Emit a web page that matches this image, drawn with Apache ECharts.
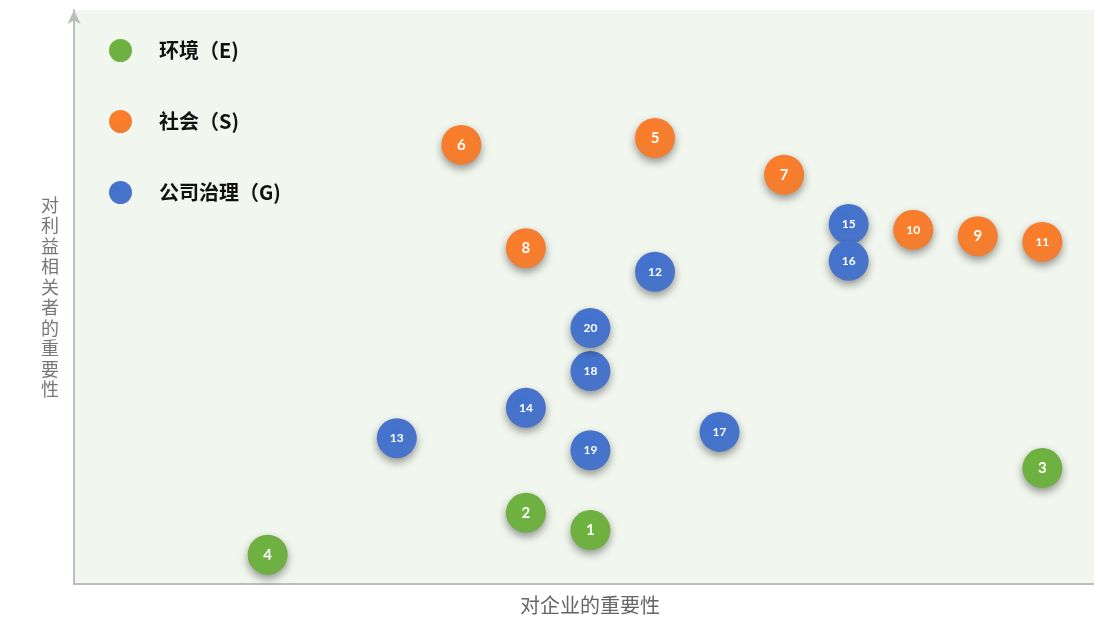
<!DOCTYPE html>
<html><head><meta charset="utf-8">
<script src="https://cdn.jsdelivr.net/npm/echarts@6/dist/echarts.min.js"></script>
<style>html,body{margin:0;padding:0;background:#fff}#c{width:1094px;height:617px}</style>
</head><body><div id="c"></div>
<script>
const seriesNames = ['环境（E)', '社会（S)', '公司治理（G)'];
const seriesColors = ['#67a93a', '#ef7626', '#3f6cc4'];
const envIds = [1, 2, 3, 4];
const envX = [8, 7, 15, 3];
const envY = [9.4, 12.4, 20.2, 5.1];
const socIds = [5, 6, 7, 8, 9, 10, 11];
const socX = [9, 6, 11, 7, 14, 13, 15];
const socY = [77.7, 76.5, 71.3, 58.5, 60.6, 61.7, 59.6];
const govIds = [12, 13, 14, 15, 16, 17, 18, 19, 20];
const govX = [9, 5, 7, 12, 12, 10, 8, 8, 8];
const govY = [54.4, 25.4, 30.7, 62.7, 56.3, 26.5, 37.1, 23.3, 44.6];
const xAxisName = '对企业的重要性';
const yAxisName = '对利益相关者的重要性';

function pts(ids, xs, ys) {
  return ids.map((id, i) => ({ name: String(id), value: [xs[i], ys[i]], label: { fontSize: String(id).length > 1 ? 12 : 15 } }));
}
const groups = [pts(envIds, envX, envY), pts(socIds, socX, socY), pts(govIds, govX, govY)];

const chart = echarts.init(document.getElementById('c'));
chart.setOption({
  animation: false,
  textStyle: { fontFamily: 'Noto Sans CJK SC' },
  grid: { left: 74, right: 0, top: 10, bottom: 33, show: true, backgroundColor: '#f1f6ee', borderWidth: 0, outerBoundsMode: 'none', containLabel: false },
  legend: {
    orient: 'vertical', left: 104, top: 34, itemWidth: 23, itemHeight: 23, itemGap: 48,
    icon: 'circle',
    data: seriesNames,
    textStyle: { fontSize: 20, fontWeight: 'bold', color: '#111', fontFamily: 'Noto Sans CJK SC', padding: [0, 0, 0, 22] }
  },
  xAxis: {
    type: 'value', min: 0, max: 15.8,
    name: xAxisName, nameLocation: 'middle', nameGap: 11,
    nameTextStyle: { fontSize: 20, color: '#666', padding: [0, 0, 0, 12] },
    axisLine: { lineStyle: { color: '#bdbdbd', width: 2 } },
    axisTick: { show: false }, axisLabel: { show: false }, splitLine: { show: false }
  },
  yAxis: {
    type: 'value', min: 0, max: 100,
    name: yAxisName.split('').join('\n'), nameLocation: 'middle', nameGap: 24, nameRotate: 0,
    nameTextStyle: { fontSize: 18, color: '#777', lineHeight: 20.5, align: 'center' },
    axisLine: { symbol: ['none', 'arrow'], symbolSize: [10, 14], lineStyle: { color: '#bdbdbd', width: 2 } },
    axisTick: { show: false }, axisLabel: { show: false }, splitLine: { show: false }
  },
  series: groups.map((g, i) => ({
    name: seriesNames[i], type: 'scatter', data: g, symbolSize: 40,
    itemStyle: {
      opacity: 1,
      color: new echarts.graphic.RadialGradient(0.4, 0.35, 0.75, [
        { offset: 0, color: echarts.color.lift(seriesColors[i], -0.06) },
        { offset: 1, color: echarts.color.lift(seriesColors[i], 0.06) }
      ]),
      shadowBlur: 8, shadowColor: 'rgba(0,0,0,0.4)', shadowOffsetY: 4
    },
    label: {
      show: true, position: 'inside', color: '#fff', fontWeight: 'bold', fontFamily: 'Lato',
      formatter: p => p.name
    }
  }))
});
</script></body></html>
